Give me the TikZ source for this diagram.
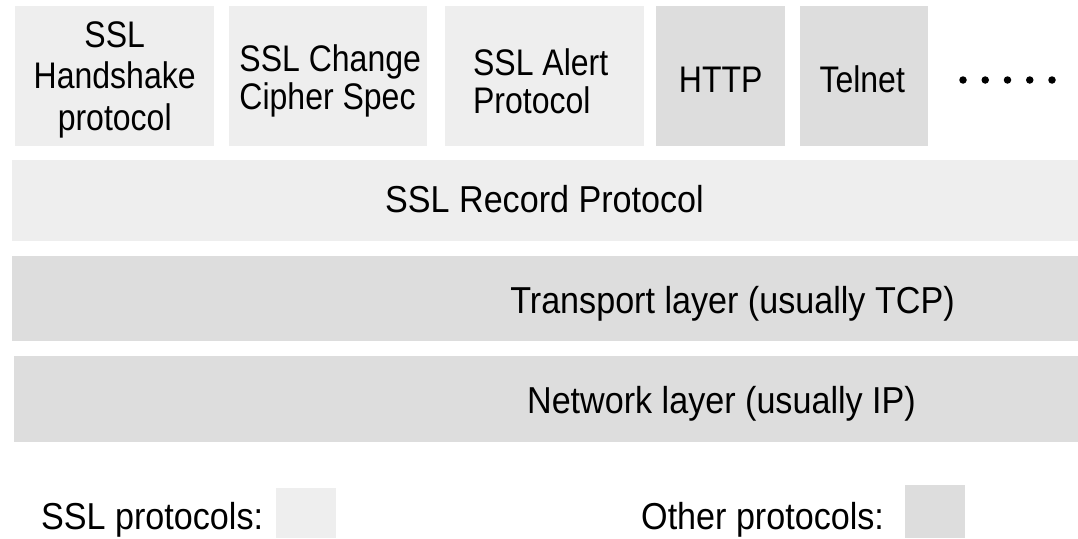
\documentclass[tikz,border=0pt]{standalone}
\usepackage{fontspec}
\setmainfont{Liberation Sans}[FakeStretch=0.91]
\newfontfamily\narrowsans{Liberation Sans}[FakeStretch=0.865]
\definecolor{sslgray}{HTML}{EEEEEE}
\definecolor{othergray}{HTML}{DDDDDD}
\tikzset{
  txt/.style={font=\fontsize{37.5}{41.5}\selectfont, inner sep=0pt, text=black},
  toptxt/.style={font=\narrowsans\fontsize{37}{41.7}\selectfont, inner sep=0pt, text=black},
  twoline/.style={font=\narrowsans\fontsize{37}{38.3}\selectfont, align=left},
  sslbox/.style={fill=sslgray, draw=none, inner sep=0pt, anchor=north west},
  otherbox/.style={fill=othergray, draw=none, inner sep=0pt, anchor=north west},
  dotmark/.style={circle, fill=black, inner sep=0pt, minimum size=7.5pt},
}
\begin{document}
\begin{tikzpicture}[x=1pt, y=-1pt]
  \useasboundingbox (0,0) rectangle (1078,538);

  % application-level protocols
  \node[sslbox, minimum width=199pt, minimum height=140pt] (hs) at (15,6) {};
  \node[sslbox, minimum width=198pt, minimum height=140pt] (ccs) at (229,6) {};
  \node[sslbox, minimum width=199pt, minimum height=140pt] (alert) at (445,6) {};
  \node[otherbox, minimum width=129pt, minimum height=140pt] (http) at (656,6) {};
  \node[otherbox, minimum width=128pt, minimum height=140pt] (telnet) at (800,6) {};

  \node[toptxt, align=center] (hslbl) at ([yshift=-3.5pt]hs.center)
    {SSL\\Handshake\\protocol};
  \node[toptxt, twoline] (ccslbl) at ([yshift=-5pt,xshift=2pt]ccs.center)
    {SSL Change\\Cipher Spec};
  \node[toptxt, twoline] (alertlbl) at ([yshift=-5pt,xshift=-4pt]alert.center)
    {SSL Alert\\Protocol};
  \node[toptxt] (httplbl) at ([yshift=-3.5pt]http.center) {HTTP};
  \node[toptxt] (telnetlbl) at ([yshift=-3.5pt,xshift=-2pt]telnet.center) {Telnet};

  % more protocols
  \foreach \i/\xx in {1/963, 2/985.25, 3/1007.5, 4/1029.75, 5/1052}
    \node[dotmark] (dot\i) at (\xx,80) {};

  % record layer
  \node[sslbox, minimum width=1066pt, minimum height=81pt] (record) at (12,160) {};
  \node[txt, anchor=base] (recordlbl) at (544.5,212) {SSL Record Protocol};

  % lower layers
  \node[otherbox, minimum width=1066pt, minimum height=85pt] (transport) at (12,256) {};
  \node[txt, anchor=base] (transportlbl) at (732.5,313) {Transport layer (usually TCP)};
  \node[otherbox, minimum width=1064pt, minimum height=86pt] (network) at (14,356) {};
  \node[txt, anchor=base] (networklbl) at (721.5,413) {Network layer (usually IP)};

  % legend
  \node[txt, anchor=base west] (ssllegend) at (41,529) {SSL protocols:};
  \node[sslbox, minimum width=60pt, minimum height=50pt] (sslswatch) at (276,488) {};
  \node[txt, anchor=base west] (otherlegend) at (641,529) {Other protocols:};
  \node[otherbox, minimum width=60pt, minimum height=53pt] (otherswatch) at (905,485) {};
\end{tikzpicture}
\end{document}
